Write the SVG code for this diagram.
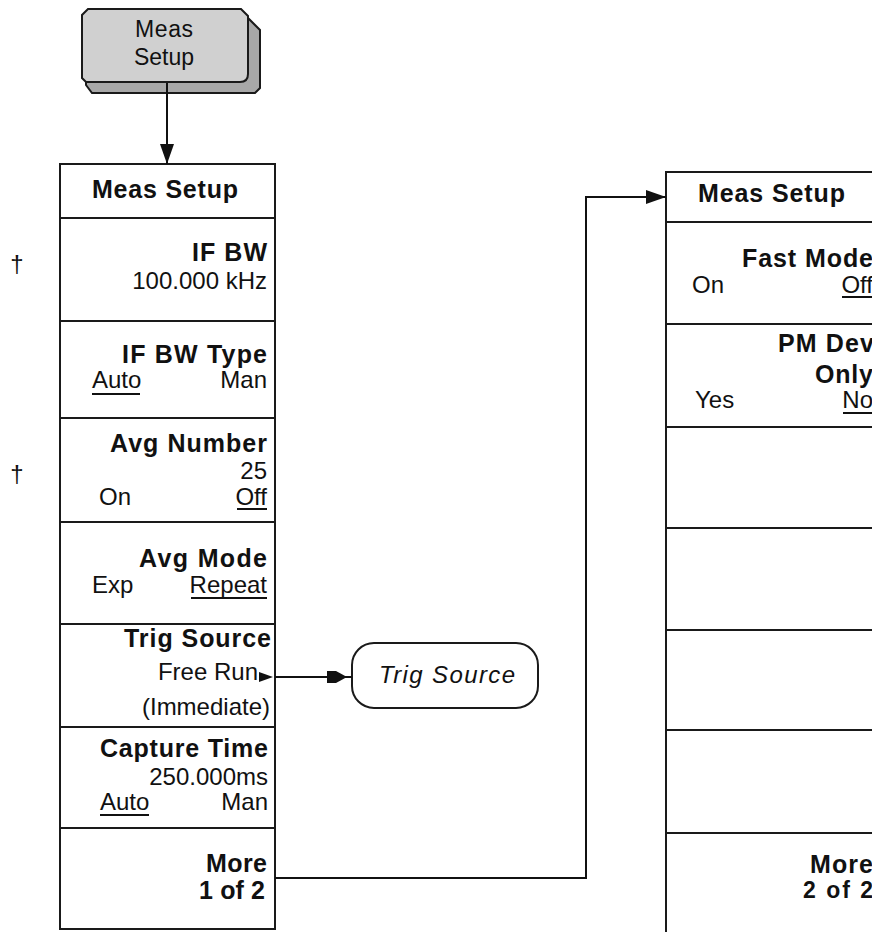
<svg xmlns="http://www.w3.org/2000/svg" width="872" height="932" viewBox="0 0 872 932">
  <defs>
    <style>
      text { font-family: "Liberation Sans", Arial, sans-serif; font-size: 24px; fill: #111; }
      .b { font-weight: bold; font-size: 25px; }
      .e { text-anchor: end; }
      .m { text-anchor: middle; }
      .it { font-style: italic; }
      .box { fill: #fff; stroke: #1a1a1a; stroke-width: 2; }
      .ul { stroke: #111; stroke-width: 2; }
      .conn { fill: none; stroke: #111; stroke-width: 2; }
    </style>
    <marker id="tri" viewBox="0 0 20 14" refX="20" refY="7" markerWidth="20" markerHeight="14" markerUnits="userSpaceOnUse" orient="auto">
      <path d="M0,0 L20,7 L0,14 Z" fill="#111"/>
    </marker>
    <marker id="flat" viewBox="0 0 25 14" refX="25" refY="7" markerWidth="25" markerHeight="14" markerUnits="userSpaceOnUse" orient="auto">
      <path d="M0,1 L9,1 L20,7 L9,13 L0,13 Z" fill="#111"/>
    </marker>
  </defs>
  <rect width="872" height="932" fill="#fff"/>

  <g id="key-meas-setup">
    <path d="M246,16 L260,30 L260,88 L255,93 L92,93 L86,85 L86,80 Z" fill="#a8a8a8" stroke="#1a1a1a" stroke-width="2"/>
    <path d="M88,9 L241,9 L248,16 L248,74 Q248,82 240,82 L86,82 L82,78 L82,15 Z" fill="#d0d0d0" stroke="#1a1a1a" stroke-width="2"/>
    <text x="164" y="37" class="m" style="font-size:23px" textLength="58" lengthAdjust="spacing">Meas</text>
    <text x="164" y="65" class="m" style="font-size:23px">Setup</text>
  </g>

  <g id="dagger-marks">
    <text x="17" y="272" class="m">†</text>
    <text x="17" y="482" class="m">†</text>
  </g>

  <g id="menu1">
    <rect class="box" x="60" y="164" width="215" height="54"/>
    <text x="92" y="198" class="b" textLength="146" lengthAdjust="spacing">Meas Setup</text>
    <g id="m1-ifbw">
      <rect class="box" x="60" y="218" width="215" height="103"/>
      <text x="267" y="261" class="b e" textLength="75" lengthAdjust="spacing">IF BW</text>
      <text x="267" y="289" class="e">100.000 kHz</text>
    </g>
    <g id="m1-ifbwtype">
      <rect class="box" x="60" y="321" width="215" height="97"/>
      <text x="267" y="363" class="b e" textLength="145" lengthAdjust="spacing">IF BW Type</text>
      <text x="92" y="388">Auto</text>
      <line class="ul" x1="92" y1="394" x2="140" y2="394"/>
      <text x="267" y="388" class="e">Man</text>
    </g>
    <g id="m1-avgnum">
      <rect class="box" x="60" y="418" width="215" height="104"/>
      <text x="267" y="452" class="b e" textLength="157" lengthAdjust="spacing">Avg Number</text>
      <text x="267" y="479" class="e">25</text>
      <text x="99" y="505">On</text>
      <text x="267" y="505" class="e">Off</text>
      <line class="ul" x1="237" y1="509" x2="267" y2="509"/>
    </g>
    <g id="m1-avgmode">
      <rect class="box" x="60" y="522" width="215" height="102"/>
      <text x="267" y="567" class="b e" textLength="128" lengthAdjust="spacing">Avg Mode</text>
      <text x="92" y="593">Exp</text>
      <text x="267" y="593" class="e">Repeat</text>
      <line class="ul" x1="191" y1="598" x2="267" y2="598"/>
    </g>
    <g id="m1-trigsource">
      <rect class="box" x="60" y="624" width="215" height="103"/>
      <text x="271" y="647" class="b e" textLength="147" lengthAdjust="spacing">Trig Source</text>
      <text x="258" y="680" class="e">Free Run</text>
      <text x="270" y="715" class="e">(Immediate)</text>
    </g>
    <g id="m1-capture">
      <rect class="box" x="60" y="727" width="215" height="101"/>
      <text x="268" y="757" class="b e" textLength="168" lengthAdjust="spacing">Capture Time</text>
      <text x="268" y="785" class="e">250.000ms</text>
      <text x="100" y="810">Auto</text>
      <line class="ul" x1="100" y1="815" x2="149" y2="815"/>
      <text x="268" y="810" class="e">Man</text>
    </g>
    <g id="m1-more">
      <rect class="box" x="60" y="828" width="215" height="101"/>
      <text x="267" y="872" class="b e" textLength="61" lengthAdjust="spacing">More</text>
      <text x="265" y="899" class="b e" textLength="66" lengthAdjust="spacing">1 of 2</text>
    </g>
  </g>

  <g id="trig-source-node">
    <rect x="352" y="643" width="186" height="65" rx="22" ry="22" fill="#fff" stroke="#1a1a1a" stroke-width="2"/>
    <text x="447" y="683" class="m it" textLength="136" lengthAdjust="spacing">Trig Source</text>
  </g>

  <g id="menu2">
    <rect class="box" x="666" y="172" width="215" height="50"/>
    <text x="698" y="202" class="b" textLength="147" lengthAdjust="spacing">Meas Setup</text>
    <g id="m2-fastmode">
      <rect class="box" x="666" y="222" width="215" height="102"/>
      <text x="873" y="267" class="b e" textLength="131" lengthAdjust="spacing">Fast Mode</text>
      <text x="692" y="293">On</text>
      <text x="873" y="293" class="e">Off</text>
      <line class="ul" x1="842" y1="297" x2="873" y2="297"/>
    </g>
    <g id="m2-pmdev">
      <rect class="box" x="666" y="324" width="215" height="103"/>
      <text x="874" y="352" class="b e" textLength="96" lengthAdjust="spacing">PM Dev</text>
      <text x="873" y="383" class="b e" textLength="58" lengthAdjust="spacing">Only</text>
      <text x="695" y="408">Yes</text>
      <text x="873" y="408" class="e">No</text>
      <line class="ul" x1="843" y1="413" x2="873" y2="413"/>
    </g>
    <rect id="m2-k3" class="box" x="666" y="427" width="215" height="101"/>
    <rect id="m2-k4" class="box" x="666" y="528" width="215" height="102"/>
    <rect id="m2-k5" class="box" x="666" y="630" width="215" height="100"/>
    <rect id="m2-k6" class="box" x="666" y="730" width="215" height="103"/>
    <g id="m2-more">
      <rect class="box" x="666" y="833" width="215" height="104"/>
      <text x="873" y="873" class="b e" textLength="63" lengthAdjust="spacing">More</text>
      <text x="873" y="898" class="b e" style="font-size:23px" textLength="70" lengthAdjust="spacing">2 of 2</text>
    </g>
  </g>

  <g id="connectors">
    <path class="conn" d="M167,83 V164" marker-end="url(#tri)"/>
    <path d="M259,672 L273,677 L259,682 Z" fill="#111"/>
    <path class="conn" d="M275,677 H352" marker-end="url(#flat)"/>
    <path class="conn" d="M275,878 H586 V197 H666" marker-end="url(#tri)"/>
  </g>
</svg>
